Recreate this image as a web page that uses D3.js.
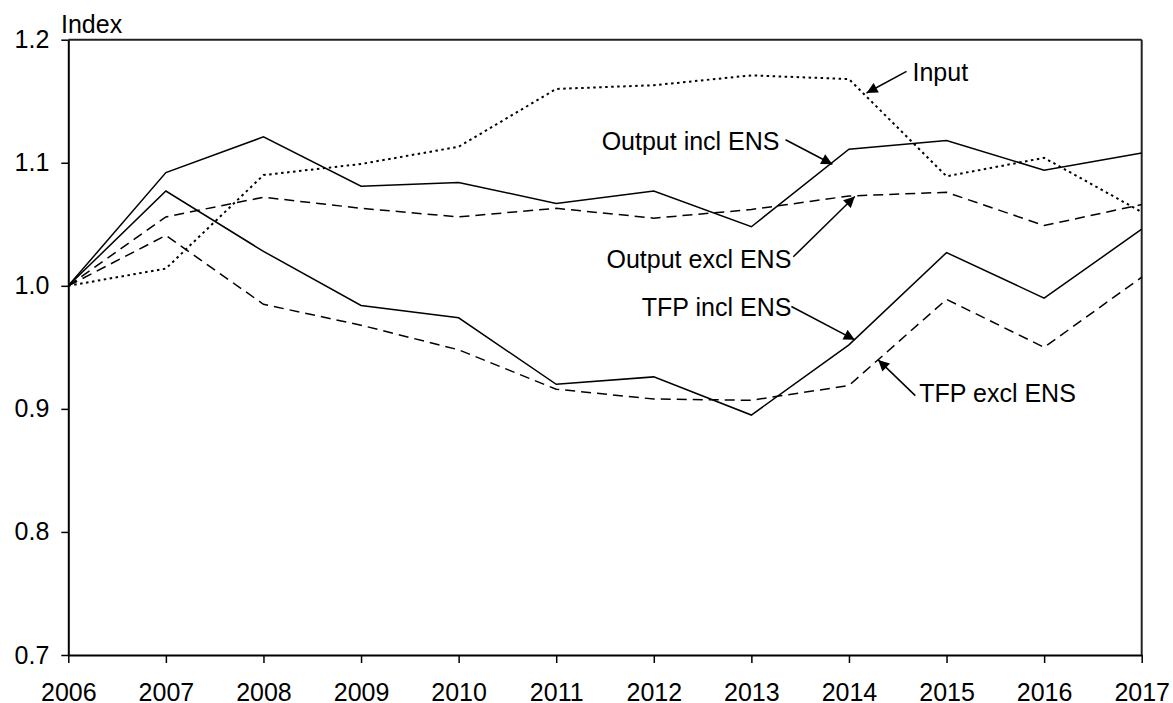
<!DOCTYPE html>
<html lang="en">
<head>
    <meta charset="utf-8">
    <title>Index 2006-2017</title>
    <script src="https://cdn.jsdelivr.net/npm/d3@7/dist/d3.min.js"></script>
    <style type="text/css">
      body{ margin:0; background:#fff; }
      text{ font-family: "Liberation Sans", Arial, sans-serif; fill:#000; }
      .axis path, .axis line{ stroke:#000; }
    </style>
</head>
<body>
<script type="text/javascript">
    // data
    var years = [2006, 2007, 2008, 2009, 2010, 2011, 2012, 2013, 2014, 2015, 2016, 2017];
    var input      = [1.000, 1.014, 1.090, 1.099, 1.113, 1.160, 1.163, 1.171, 1.168, 1.089, 1.104, 1.060];
    var outputIncl = [1.000, 1.092, 1.121, 1.081, 1.084, 1.067, 1.077, 1.048, 1.111, 1.118, 1.094, 1.108];
    var outputExcl = [1.000, 1.056, 1.072, 1.063, 1.056, 1.063, 1.055, 1.062, 1.073, 1.076, 1.049, 1.066];
    var tfpIncl    = [1.000, 1.077, 1.028, 0.984, 0.974, 0.920, 0.926, 0.895, 0.952, 1.027, 0.990, 1.046];
    var tfpExcl    = [1.000, 1.041, 0.985, 0.968, 0.948, 0.916, 0.908, 0.907, 0.919, 0.989, 0.950, 1.007];
    var yTicks = [0.7, 0.8, 0.9, 1.0, 1.1, 1.2];

    var series = [
      {name:"Input", values:input, dash:"2.5,3.5"},
      {name:"Output incl ENS", values:outputIncl, dash:null},
      {name:"Output excl ENS", values:outputExcl, dash:"10,6"},
      {name:"TFP incl ENS", values:tfpIncl, dash:null},
      {name:"TFP excl ENS", values:tfpExcl, dash:"10,6"}
    ];

    // label, text anchor, arrow tail [year,value], arrow tip [year,value]
    var labels = [
      {text:"Input", anchor:"start", tail:[2014.59, 1.1742], tip:[2014.18, 1.1567], dx:6, dy:10},
      {text:"Output incl ENS", anchor:"end", tail:[2013.35, 1.1187], tip:[2013.83, 1.0988], dx:-6, dy:10},
      {text:"Output excl ENS", anchor:"end", tail:[2013.43, 1.0236], tip:[2014.06, 1.0726], dx:-2, dy:11},
      {text:"TFP incl ENS", anchor:"end", tail:[2013.41, 0.9832], tip:[2014.06, 0.9561], dx:0, dy:10},
      {text:"TFP excl ENS", anchor:"start", tail:[2014.68, 0.9108], tip:[2014.30, 0.9398], dx:4, dy:6}
    ];

    var width = 1173, height = 703;
    var mLeft = 68.3, mRight = 1141.7, mTop = 39.7, mBottom = 655;

    var svg = d3.select("body").append("svg").attr("width", width).attr("height", height);

    svg.append("defs").append("marker")
        .attr("id", "arrow")
        .attr("viewBox", "0 0 10 10")
        .attr("refX", 10).attr("refY", 5)
        .attr("markerWidth", 13).attr("markerHeight", 11)
        .attr("markerUnits", "userSpaceOnUse")
        .attr("orient", "auto")
        .append("path").attr("d", "M0,0 L10,5 L0,10 z").attr("fill", "#000");

    var x = d3.scaleLinear().domain([2006, 2017]).range([mLeft, mRight]);
    var y = d3.scaleLinear().domain([0.7, 1.2]).range([mBottom, mTop]);

    // frame top / right
    svg.append("line").attr("x1", mLeft).attr("x2", mRight).attr("y1", mTop).attr("y2", mTop)
        .attr("stroke", "#222").attr("stroke-width", 2);
    svg.append("line").attr("x1", mRight).attr("x2", mRight).attr("y1", mTop).attr("y2", mBottom)
        .attr("stroke", "#222").attr("stroke-width", 2);

    // axes
    var xA = d3.axisBottom(x).tickValues(years).tickFormat(d3.format("d")).tickSizeInner(8).tickSizeOuter(0).tickPadding(20);
    svg.append("g").attr("class", "axis").attr("transform", "translate(0," + mBottom + ")").call(xA)
        .call(function(g){ g.select(".domain").attr("stroke-width", 2); g.selectAll("line").attr("stroke-width", 1.5); })
        .selectAll("text").style("font-size", "25px");

    var yA = d3.axisLeft(y).tickValues(yTicks).tickFormat(d3.format(".1f")).tickSizeInner(7).tickSizeOuter(0).tickPadding(12);
    svg.append("g").attr("class", "axis").attr("transform", "translate(" + mLeft + ",0)").call(yA)
        .call(function(g){ g.select(".domain").attr("stroke-width", 2); g.selectAll("line").attr("stroke-width", 1.5); })
        .selectAll("text").style("font-size", "25px");

    svg.append("text").attr("x", 61).attr("y", 33).style("font-size", "25px").text("Index");

    // lines
    var line = d3.line().x(function(d, i){ return x(years[i]); }).y(function(d){ return y(d); });
    svg.selectAll("path.series").data(series).enter().append("path")
        .attr("class", "series")
        .attr("d", function(d){ return line(d.values); })
        .attr("fill", "none")
        .attr("stroke", "#000")
        .attr("stroke-width", function(d){ return d.dash === "2.5,3.5" ? 2 : 1.5; })
        .attr("stroke-dasharray", function(d){ return d.dash; });

    // annotations
    svg.selectAll("line.arr").data(labels).enter().append("line")
        .attr("class", "arr")
        .attr("x1", function(d){ return x(d.tail[0]); }).attr("y1", function(d){ return y(d.tail[1]); })
        .attr("x2", function(d){ return x(d.tip[0]); }).attr("y2", function(d){ return y(d.tip[1]); })
        .attr("stroke", "#000").attr("stroke-width", 1.5)
        .attr("marker-end", "url(#arrow)");

    svg.selectAll("text.lab").data(labels).enter().append("text")
        .attr("class", "lab")
        .attr("x", function(d){ return x(d.tail[0]) + d.dx; })
        .attr("y", function(d){ return y(d.tail[1]) + d.dy; })
        .attr("text-anchor", function(d){ return d.anchor; })
        .style("font-size", "25px")
        .text(function(d){ return d.text; });
</script>
</body>
</html>
